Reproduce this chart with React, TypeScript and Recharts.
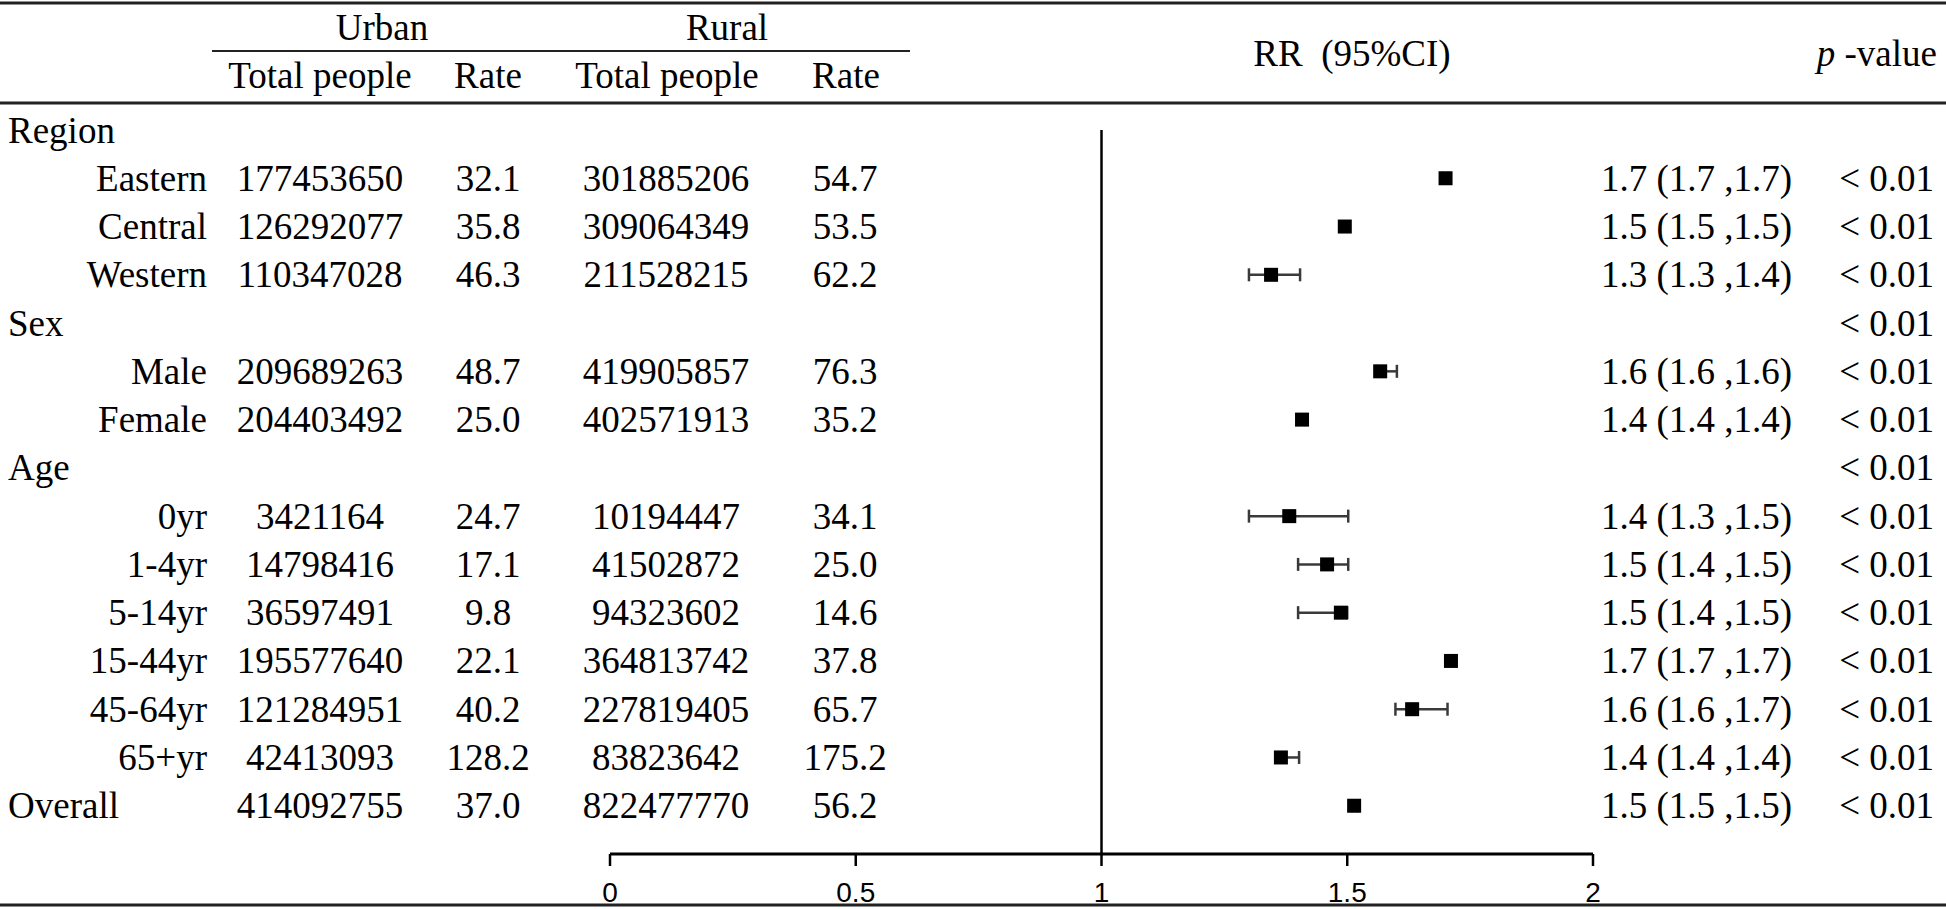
import { ScatterChart, Scatter, XAxis, YAxis, ErrorBar, ReferenceLine } from 'recharts';

// rows of the table, top to bottom
const rowLabels = ['Region', 'Eastern', 'Central', 'Western', 'Sex', 'Male', 'Female', 'Age', '0yr', '1-4yr', '5-14yr', '15-44yr', '45-64yr', '65+yr', 'Overall'];
const groupRows = ['Region', 'Sex', 'Age', 'Overall'];

const urbanTotal = ['', '177453650', '126292077', '110347028', '', '209689263', '204403492', '', '3421164', '14798416', '36597491', '195577640', '121284951', '42413093', '414092755'];
const urbanRate = ['', '32.1', '35.8', '46.3', '', '48.7', '25.0', '', '24.7', '17.1', '9.8', '22.1', '40.2', '128.2', '37.0'];
const ruralTotal = ['', '301885206', '309064349', '211528215', '', '419905857', '402571913', '', '10194447', '41502872', '94323602', '364813742', '227819405', '83823642', '822477770'];
const ruralRate = ['', '54.7', '53.5', '62.2', '', '76.3', '35.2', '', '34.1', '25.0', '14.6', '37.8', '65.7', '175.2', '56.2'];
const rrText = ['', '1.7 (1.7 ,1.7)', '1.5 (1.5 ,1.5)', '1.3 (1.3 ,1.4)', '', '1.6 (1.6 ,1.6)', '1.4 (1.4 ,1.4)', '', '1.4 (1.3 ,1.5)', '1.5 (1.4 ,1.5)', '1.5 (1.4 ,1.5)', '1.7 (1.7 ,1.7)', '1.6 (1.6 ,1.7)', '1.4 (1.4 ,1.4)', '1.5 (1.5 ,1.5)'];
const pValue = ['', '< 0.01', '< 0.01', '< 0.01', '< 0.01', '< 0.01', '< 0.01', '< 0.01', '< 0.01', '< 0.01', '< 0.01', '< 0.01', '< 0.01', '< 0.01', '< 0.01'];

// plotted RR and CI
const rrValue = [null, 1.70, 1.495, 1.345, null, 1.567, 1.408, null, 1.382, 1.459, 1.487, 1.711, 1.632, 1.365, 1.514];
const ciLow = [null, 1.695, 1.49, 1.30, null, 1.56, 1.40, null, 1.30, 1.40, 1.40, 1.705, 1.598, 1.36, 1.51];
const ciHigh = [null, 1.705, 1.50, 1.404, null, 1.601, 1.415, null, 1.502, 1.502, 1.50, 1.715, 1.704, 1.402, 1.52];

const xTicks = [0, 0.5, 1, 1.5, 2];
const rowTicks = rowLabels.map((_, i) => i);

const serif = '"Liberation Serif", "Times New Roman", serif';
const FS = 37;

const points = rowLabels
  .map((label, i) => ({
    label,
    row: i,
    rr: rrValue[i],
    err: rrValue[i] == null ? null : [rrValue[i]! - ciLow[i]!, ciHigh[i]! - rrValue[i]!],
  }))
  .filter((d) => d.rr != null);

function RowTick(props: any) {
  const { y, payload } = props;
  const i = payload.value as number;
  const base = y + 12.5;
  const isGroup = groupRows.includes(rowLabels[i]);
  return (
    <g fontFamily={serif} fontSize={FS} fill="#000">
      <text x={isGroup ? 8 : 207} y={base} textAnchor={isGroup ? 'start' : 'end'}>{rowLabels[i]}</text>
      <text x={320} y={base} textAnchor="middle">{urbanTotal[i]}</text>
      <text x={488} y={base} textAnchor="middle">{urbanRate[i]}</text>
      <text x={666} y={base} textAnchor="middle">{ruralTotal[i]}</text>
      <text x={845} y={base} textAnchor="middle">{ruralRate[i]}</text>
      <text x={1601} y={base} textAnchor="start">{rrText[i]}</text>
      <text x={1934} y={base} textAnchor="end">{pValue[i]}</text>
    </g>
  );
}

const Square = (props: any) => (
  <rect x={props.cx - 7} y={props.cy - 7} width={14} height={14} fill="#000" />
);

function Header() {
  return (
    <svg width={1946} height={909} style={{ position: 'absolute', left: 0, top: 0, pointerEvents: 'none' }}>
      <line x1={0} x2={1946} y1={3} y2={3} stroke="#222" strokeWidth={3} />
      <line x1={212} x2={910} y1={51} y2={51} stroke="#222" strokeWidth={2} />
      <line x1={0} x2={1946} y1={103} y2={103} stroke="#222" strokeWidth={3} />
      <line x1={0} x2={1946} y1={905} y2={905} stroke="#222" strokeWidth={3} />
      <g fontFamily={serif} fontSize={FS} fill="#000">
        <text x={382} y={40} textAnchor="middle">Urban</text>
        <text x={727} y={40} textAnchor="middle">Rural</text>
        <text x={320} y={88} textAnchor="middle">Total people</text>
        <text x={488} y={88} textAnchor="middle">Rate</text>
        <text x={667} y={88} textAnchor="middle">Total people</text>
        <text x={846} y={88} textAnchor="middle">Rate</text>
        <text x={1352} y={66} textAnchor="middle" style={{ whiteSpace: 'pre' }}>RR  (95%CI)</text>
        <text x={1937} y={66} textAnchor="end" style={{ whiteSpace: 'pre' }}>
          <tspan fontStyle="italic">p</tspan> -value
        </text>
      </g>
    </svg>
  );
}

export default function App() {
  return (
    <div style={{ position: 'absolute', left: 0, top: 0, width: 1946, height: 909, background: '#fff' }}>
      <ScatterChart width={1946} height={909} margin={{ top: 130, right: 353, bottom: 10, left: 600 }}>
        <XAxis
          type="number"
          dataKey="rr"
          domain={[0, 2]}
          ticks={xTicks}
          interval={0}
          height={45}
          axisLine={{ stroke: '#000', strokeWidth: 3 }}
          tickLine={{ stroke: '#000', strokeWidth: 2.5 }}
          tickSize={12}
          tickMargin={16}
          tick={{ fontFamily: '"Liberation Sans", Arial, sans-serif', fontSize: 28, fill: '#000' }}
        />
        <YAxis
          type="number"
          dataKey="row"
          domain={[0, 15]}
          reversed
          ticks={rowTicks}
          interval={0}
          width={10}
          axisLine={false}
          tickLine={false}
          tick={(p: any) => <RowTick {...p} />}
        />
        <ReferenceLine x={1} stroke="#000" strokeWidth={2.5} />
        <Scatter data={points} shape={Square} isAnimationActive={false}>
          <ErrorBar dataKey="err" direction="x" width={6.5} stroke="#3a3a3a" strokeWidth={2.5} isAnimationActive={false} />
        </Scatter>
      </ScatterChart>
      <Header />
    </div>
  );
}
